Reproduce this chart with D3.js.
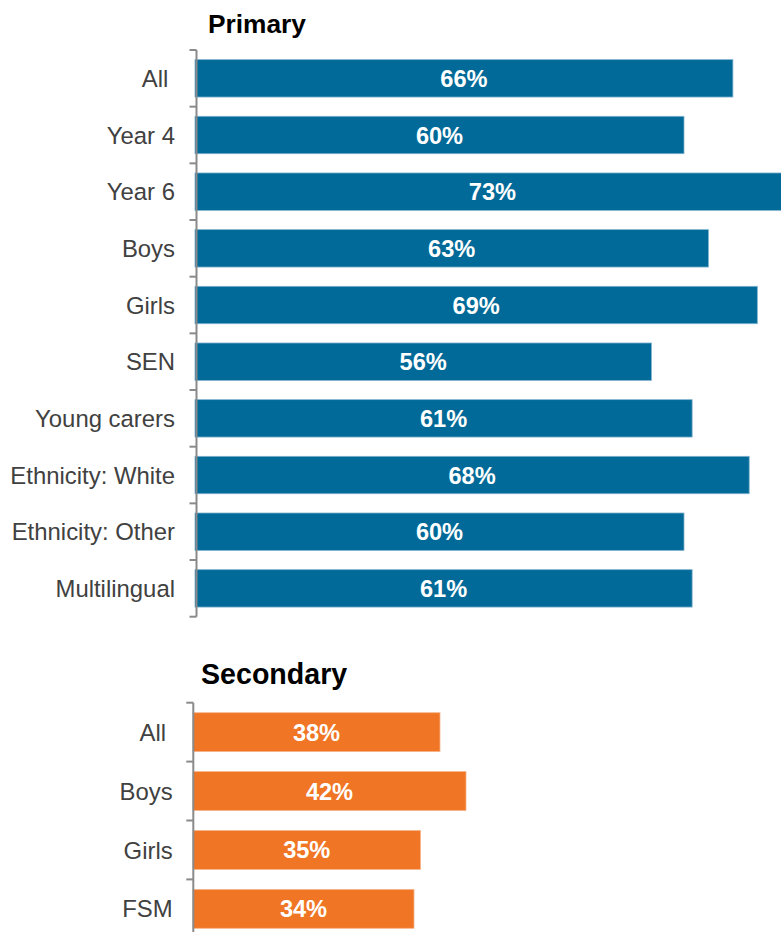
<!DOCTYPE html>
<html>
<head>
<meta charset="utf-8">
<script src="https://cdn.jsdelivr.net/npm/d3@7"></script>
<style>
  html, body { margin: 0; padding: 0; background: #fff; }
  svg { display: block; }
  text { font-family: "Liberation Sans", Arial, sans-serif; }
</style>
</head>
<body>
<script>
// ---- Data ----
const primaryCategories = ["All ", "Year 4", "Year 6", "Boys", "Girls", "SEN", "Young carers", "Ethnicity: White", "Ethnicity: Other", "Multilingual"];
const primaryValues = [66, 60, 73, 63, 69, 56, 61, 68, 60, 61];
const secondaryCategories = ["All ", "Boys", "Girls", "FSM"];
const secondaryValues = [38, 42, 35, 34];
const titles = ["Primary", "Secondary"];

const W = 781, H = 932;
const svg = d3.select("body").append("svg").attr("width", W).attr("height", H);

function panel(cfg) {
  const g = svg.append("g");
  const x = d3.scaleLinear().domain([0, 100]).range([cfg.x0, cfg.x0 + cfg.slope * 100]);
  const y = d3.scaleBand().domain(cfg.cats).range([cfg.yTop, cfg.yTop + cfg.step * cfg.cats.length])
    .paddingInner(0.34).paddingOuter(0.17);

  g.append("text").attr("x", cfg.titleX).attr("y", cfg.titleY)
    .attr("font-size", cfg.titleSize).attr("font-weight", "bold").attr("fill", "#000")
    .text(cfg.title);

  // bars
  g.selectAll("rect.bar").data(cfg.vals).enter().append("rect")
    .attr("class", "bar")
    .attr("x", x(0))
    .attr("y", (d, i) => y(cfg.cats[i]))
    .attr("width", d => x(d) - x(0))
    .attr("height", y.bandwidth())
    .attr("fill", cfg.color)
    .attr("stroke", cfg.edge).attr("stroke-width", 0.8);

  // value labels
  g.selectAll("text.val").data(cfg.vals).enter().append("text")
    .attr("class", "val")
    .attr("x", d => (x(0) + x(d)) / 2)
    .attr("y", (d, i) => y(cfg.cats[i]) + y.bandwidth() / 2)
    .attr("dy", "0.36em")
    .attr("text-anchor", "middle")
    .attr("font-size", 23.6).attr("font-weight", "bold").attr("fill", "#fff")
    .text(d => d + "%");

  // category axis
  const axis = d3.axisLeft(y).tickSize(0).tickPadding(cfg.labelPad);
  const ag = g.append("g").attr("transform", `translate(${cfg.axisX},0)`).call(axis);
  ag.select(".domain").remove();
  ag.selectAll("text").attr("font-size", 23.9).attr("fill", "#414141")
    .attr("font-family", '"Liberation Sans", Arial, sans-serif')
    .style("white-space", "pre").attr("dy", "0.36em");

  // axis line and boundary ticks
  const [r0, r1] = y.range();
  g.append("line").attr("x1", cfg.axisX).attr("x2", cfg.axisX).attr("y1", r0).attr("y2", r1)
    .attr("stroke", "#8a8a8a").attr("stroke-width", 2);
  const bounds = d3.range(cfg.cats.length + 1).map(i => r0 + i * y.step());
  g.selectAll("line.tk").data(bounds).enter().append("line")
    .attr("class", "tk")
    .attr("x1", cfg.axisX - 7).attr("x2", cfg.axisX).attr("y1", d => d).attr("y2", d => d)
    .attr("stroke", "#8a8a8a").attr("stroke-width", 2);
}

panel({
  title: titles[0], titleX: 208, titleY: 33, titleSize: 26.3,
  cats: primaryCategories, vals: primaryValues,
  x0: 195, slope: 8.15, axisX: 196.5, yTop: 50, step: 56.67,
  color: "#026a98", edge: "#7fb2cf", labelPad: 21.5
});
panel({
  title: titles[1], titleX: 201, titleY: 684, titleSize: 28.6,
  cats: secondaryCategories, vals: secondaryValues,
  x0: 193, slope: 6.5, axisX: 193.3, yTop: 702.7, step: 58.9,
  color: "#f07524", edge: "#f7b48a", labelPad: 20.6
});
</script>
</body>
</html>
